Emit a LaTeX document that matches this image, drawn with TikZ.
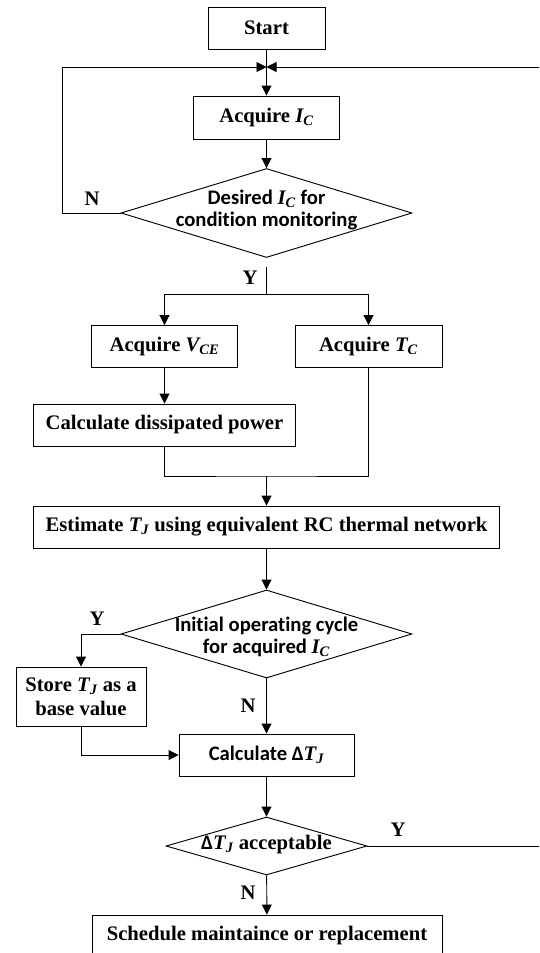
\documentclass[tikz,border=0pt]{standalone}
\usepackage{fontspec}
\setmainfont{Liberation Serif}
\newfontfamily\calfont[Ligatures=NoCommon]{Carlito}
\usetikzlibrary{shapes.geometric,arrows.meta}
\newcommand\vq[2]{{\rmfamily\bfseries\itshape #1\textsubscript{#2}}}

\begin{document}
\begin{tikzpicture}[x=0.75pt,y=-0.75pt,line width=0.7pt,
  font=\fontsize{15.5}{18}\selectfont\bfseries,
  >={Triangle[length=7.5pt,width=7.5pt]},
  boxstyle/.style={draw,rectangle,minimum height=31.5pt,inner sep=2pt,align=center},
  diastyle/.style={draw,diamond,inner sep=0pt},
  dtextstyle/.style={font=\fontsize{15.5}{16}\selectfont\bfseries\calfont,align=center,inner sep=0pt},
  ynstyle/.style={inner sep=0pt}]
\useasboundingbox (0,0) rectangle (539,953);
\clip (0,0) rectangle (539,953);

% blocks
\node[boxstyle,minimum width=87.75pt] (start) at (266.5,28) {Start};
\coordinate (join) at (266.5,67);
\node[boxstyle,minimum width=109.5pt,minimum height=32.25pt] (acqic) at (266.5,117.5) {Acquire \vq{I}{C}};
\node[diastyle,minimum width=218.25pt,minimum height=66.75pt] (desired) at (266.5,213) {};
\node[dtextstyle] (desired-t) at (266.5,210) {Desired \vq{I}{C} for\\condition monitoring};
\coordinate (split) at (266.5,294);
\node[boxstyle,minimum width=109.5pt] (acqvce) at (164.5,346.5) {Acquire \vq{V}{CE}};
\node[boxstyle,minimum width=110.25pt] (acqtc) at (368.5,346.5) {Acquire \vq{T}{C}};
\node[boxstyle,minimum width=196.5pt] (power) at (164.5,425) {Calculate dissipated power};
\coordinate (merge) at (266.5,476);
\node[boxstyle,minimum width=349.5pt] (estim) at (266.5,527) {Estimate \vq{T}{J} using equivalent RC thermal network};
\node[diastyle,minimum width=218.25pt,minimum height=66pt] (initial) at (266.5,634) {};
\node[dtextstyle] (initial-t) at (266.5,637) {Initial operating cycle\\for acquired \vq{I}{C}};
\node[boxstyle,minimum width=97.5pt,minimum height=44.25pt] (store) at (81,696.5) {Store \vq{T}{J} as a\\base value};
\node[boxstyle,minimum width=131.25pt] (deltatj) at (266.5,755) {\calfont Calculate Δ\vq{T}{J}};
\node[diastyle,minimum width=150.75pt,minimum height=43.5pt] (accept) at (266.5,846) {};
\node[ynstyle] (accept-t) at (266.5,845) {{\calfont Δ}\vq{T}{J} acceptable};
\node[boxstyle,minimum width=262.5pt] (sched) at (267,936) {Schedule maintaince or replacement};
\coordinate (loopL) at (62,67);
\coordinate (loopR) at (541,67);

% connectors
\draw[->] (start) -- (acqic);
\draw[->] (acqic) -- (desired);
\draw[->] (desired.west) -| (loopL) -- (join);
\draw[shorten <=6.75pt] (desired.south) -- (split);
\draw[->] (split) -| (acqvce.north);
\draw[->] (split) -| (acqtc.north);
\draw[->] (acqvce) -- (power);
\draw (power.south) |- (merge) -| (acqtc.south);
\draw[->] (merge) -- (estim);
\draw[->] (estim) -- (initial);
\draw[->] (initial.west) -| (store.north);
\draw[->] (initial) -- (deltatj);
\draw[->] (store.south) |- (deltatj.west);
\draw[->] (deltatj) -- (accept);
\draw[->] (accept) -- (sched);
\draw[->] (accept.east) -| (loopR) -- (join);

% branch labels
\node[ynstyle] (n1) at (92,199) {N};
\node[ynstyle] (y1) at (250,278) {Y};
\node[ynstyle] (y2) at (97,619) {Y};
\node[ynstyle] (n2) at (248,706) {N};
\node[ynstyle] (y3) at (398,830) {Y};
\node[ynstyle] (n3) at (248,893) {N};
\end{tikzpicture}
\end{document}
